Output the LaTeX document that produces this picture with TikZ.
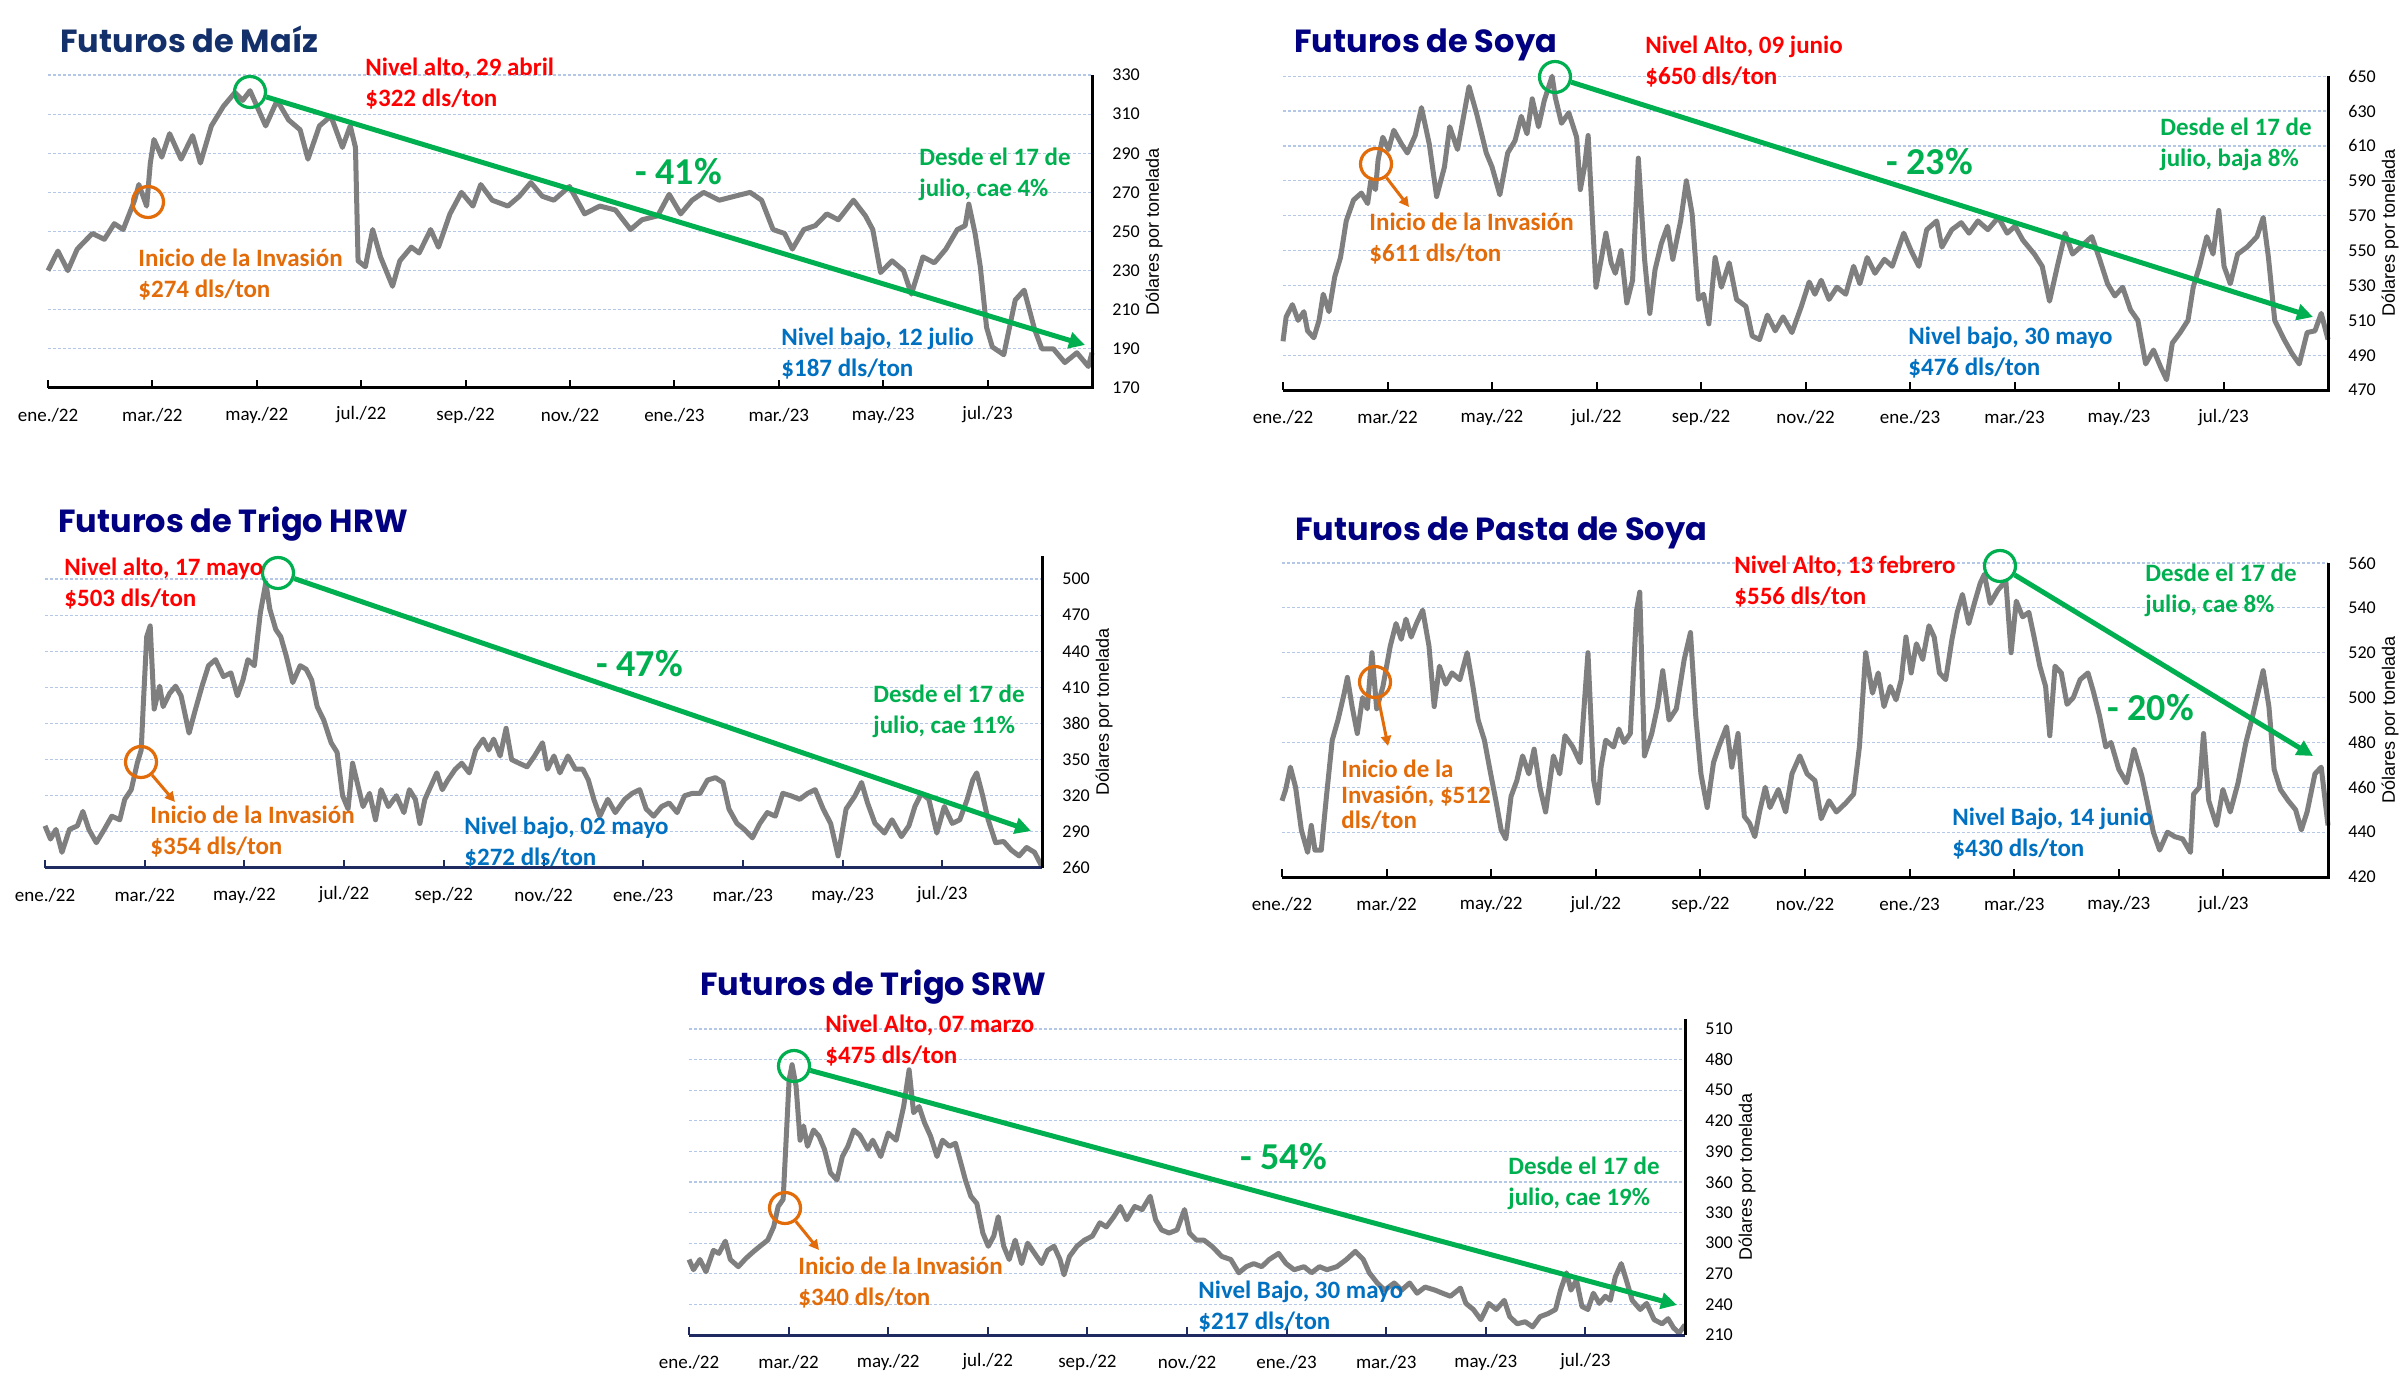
\documentclass[tikz,border=0pt]{standalone}
\usepackage{fontspec}
\setmainfont{Carlito}
\newfontfamily\titlefont{Poppins}
\newfontfamily\arialfont{Liberation Sans}
\usetikzlibrary{arrows.meta}

\definecolor{rojo}{HTML}{FF0000}
\definecolor{naranja}{HTML}{E36C0A}
\definecolor{verde}{HTML}{00B050}
\definecolor{azul}{HTML}{0070C0}
\definecolor{marino}{HTML}{000080}
\definecolor{marinomaiz}{HTML}{13306A}
\definecolor{rejilla}{HTML}{B4C7E7}
\definecolor{precio}{HTML}{7F7F7F}
\definecolor{ejeazul}{HTML}{1F2A60}

\newcommand\mesesfut{0/ene/22,2/mar/22,4/may/22,6/jul/22,8/sep/22,10/nov/22,12/ene/23,14/mar/23,16/may/23,18/jul/23}

\begin{document}
\begin{tikzpicture}[
    x=0.5pt, y=-0.5pt,
    titulo/.style={font=\titlefont\bfseries\fontsize{16}{19}\selectfont, text=marino, anchor=base west, inner sep=0pt},
    nota/.style={font=\bfseries\fontsize{12.5}{15.5}\selectfont, anchor=west, align=left, inner sep=0pt},
    pct/.style={font=\bfseries\fontsize{19}{22}\selectfont, text=verde, anchor=west, inner sep=0pt},
    rejilla/.style={draw=rejilla, line width=0.6pt, dash pattern=on 1.5pt off 1pt},
    serie/.style={draw=precio, line width=2.5pt, line join=round},
    eje/.style={line width=1.5pt},
    marca/.style={line width=1pt},
    mes/.style={font=\fontsize{9.5}{11}\selectfont, yshift=-13.5pt},
    valor/.style={font=\fontsize{9}{11}\selectfont, anchor=west, xshift=10pt, inner sep=0pt},
    unidad/.style={font=\arialfont\fontsize{9}{11}\selectfont, rotate=90},
    aro/.style={circle, draw, line width=1.6pt, minimum size=15.5pt, inner sep=0pt},
    tendencia/.style={draw=verde, line width=2.5pt, -{Triangle[length=8pt,width=8pt]}},
    flecha/.style={draw=naranja, line width=1.5pt, -{Triangle[length=5pt,width=5pt]}}
  ]
  \useasboundingbox[fill=white] (0,0) rectangle (2399,1385);

  % maiz
  \begin{scope}[shift={(48,720.5)}, x=26.1pt, y=0.978pt]
    \foreach \v in {190,210,...,330}
      \draw[rejilla] (0,\v) -- (20,\v);
    \draw[serie] plot coordinates {(0,230) (0.19,240) (0.38,230) (0.56,241) (0.85,249) (1.08,246) (1.27,254) (1.44,251) (1.66,266) (1.74,274) (1.89,263) (1.96,285) (2.03,297) (2.18,288) (2.33,300) (2.55,287) (2.77,299) (2.92,285) (3.13,304) (3.36,314) (3.58,321) (3.73,317) (3.87,322) (4.17,304) (4.39,317) (4.61,307) (4.83,302) (4.98,287) (5.2,304) (5.42,309) (5.64,293) (5.79,304) (5.89,293) (5.94,235) (6.08,232) (6.22,251) (6.37,237) (6.6,222) (6.74,235) (6.96,242) (7.11,239) (7.33,251) (7.48,242) (7.7,259) (7.92,270) (8.14,263) (8.29,274) (8.51,266) (8.81,263) (9.03,268) (9.25,275) (9.47,268) (9.69,266) (9.99,273) (10.28,259) (10.57,263) (10.87,261) (11.16,251) (11.38,256) (11.68,258) (11.9,269) (12.12,259) (12.34,266) (12.56,270) (12.86,266) (13.15,268) (13.45,270) (13.67,266) (13.89,251) (14.11,249) (14.26,241) (14.48,251) (14.7,253) (14.92,259) (15.14,256) (15.43,266) (15.66,258) (15.8,251) (15.95,229) (16.17,235) (16.39,230) (16.54,218) (16.76,237) (16.98,234) (17.2,241) (17.42,251) (17.57,253) (17.64,264) (17.76,249) (17.86,232) (17.98,201) (18.09,191) (18.31,187) (18.38,196) (18.53,215) (18.7,220) (18.9,200) (19.04,190) (19.26,190) (19.48,183) (19.71,188) (19.93,181) (20,188)};
    \draw[eje] (0,170) -- (20,170) -- (20,330);
    \foreach \pos/\mesn/\anio in \mesesfut {
      \draw[marca] (\pos,170) -- ++(0pt,4pt);
      \node[mes] (m1-\pos) at (\pos,170) {\mesn./\anio};
    }
    \foreach \v in {170,190,...,330}
      \node[valor] (v1-\v) at (20,\v) {\v};
    \node[unidad] (u1) at ([xshift=31pt]20,250) {Dólares por tonelada};
  \end{scope}
  \node[titulo, text=marinomaiz] (t1) at (60,53) {Futuros de Maíz};
  \node[aro, draw=verde] (pico1) at (250,92) {};
  \node[aro, draw=naranja] (ini1) at (148,202) {};
  \coordinate (fin1) at (1085,345);
  \draw[tendencia] (pico1) -- (fin1);
  \node[nota, text=rojo] (alto1) at (365,83.5) {Nivel alto, 29 abril\\\$322 dls/ton};
  \node[nota, text=naranja] (inv1) at (138,274.5) {Inicio de la Invasión\\\$274 dls/ton};
  \node[pct] (pct1) at (635,172) {- 41\%};
  \node[nota, text=verde] (desde1) at (919,174.5) {Desde el 17 de\\julio, cae 4\%};
  \node[nota, text=azul] (bajo1) at (781,353.5) {Nivel bajo, 12 julio\\\$187 dls/ton};

  % soya
  \begin{scope}[shift={(1283,1209.8)}, x=26.125pt, y=0.872pt]
    \foreach \v in {490,510,...,650}
      \draw[rejilla] (0,\v) -- (20,\v);
    \draw[serie] plot coordinates {(0,498) (0.06,512) (0.18,519) (0.29,510) (0.4,515) (0.47,504) (0.59,500) (0.69,510) (0.77,525) (0.88,515) (0.99,535) (1.1,546) (1.21,567) (1.35,579) (1.5,583) (1.62,577) (1.68,590) (1.77,585) (1.82,602) (1.91,615) (2.02,608) (2.12,619) (2.27,611) (2.38,606) (2.53,616) (2.65,632) (2.8,611) (2.94,581) (3.09,598) (3.19,621) (3.34,608) (3.56,644) (3.71,628) (3.89,606) (4,598) (4.15,582) (4.3,606) (4.44,613) (4.56,627) (4.67,617) (4.77,637) (4.89,621) (5,636) (5.15,650) (5.21,638) (5.33,623) (5.47,629) (5.62,615) (5.69,585) (5.77,598) (5.84,616) (5.92,569) (5.99,529) (6.09,545) (6.18,560) (6.28,543) (6.36,537) (6.47,550) (6.58,520) (6.69,533) (6.8,603) (6.92,545) (7.02,514) (7.12,539) (7.24,554) (7.36,564) (7.46,545) (7.61,567) (7.72,590) (7.83,571) (7.95,522) (8.05,525) (8.15,508) (8.27,546) (8.39,529) (8.54,543) (8.68,522) (8.86,518) (8.98,501) (9.12,499) (9.27,513) (9.42,504) (9.57,512) (9.74,503) (9.92,518) (10.07,532) (10.18,525) (10.3,533) (10.45,522) (10.6,529) (10.77,525) (10.92,541) (11.04,531) (11.18,546) (11.33,537) (11.51,545) (11.66,541) (11.88,560) (12.02,550) (12.17,541) (12.32,562) (12.51,567) (12.61,552) (12.8,562) (12.98,566) (13.13,560) (13.3,567) (13.49,562) (13.69,569) (13.86,560) (14.01,564) (14.16,556) (14.38,548) (14.53,541) (14.67,521) (14.82,541) (14.97,560) (15.11,548) (15.26,552) (15.48,558) (15.63,545) (15.78,531) (15.92,524) (16.07,529) (16.22,516) (16.36,510) (16.51,485) (16.66,493) (16.8,483) (16.91,476) (17.02,497) (17.17,503) (17.32,510) (17.42,529) (17.54,541) (17.68,558) (17.8,548) (17.91,573) (18.01,541) (18.13,531) (18.27,548) (18.45,552) (18.64,558) (18.76,569) (18.86,546) (18.98,510) (19.16,499) (19.31,491) (19.45,485) (19.6,503) (19.75,504) (19.87,514) (20,499)};
    \draw[eje] (0,470) -- (20,470) -- (20,650);
    \foreach \pos/\mesn/\anio in \mesesfut {
      \draw[marca] (\pos,470) -- ++(0pt,4pt);
      \node[mes] (m2-\pos) at (\pos,470) {\mesn./\anio};
    }
    \foreach \v in {470,490,...,650}
      \node[valor] (v2-\v) at (20,\v) {\v};
    \node[unidad] (u2) at ([xshift=31pt]20,560) {Dólares por tonelada};
  \end{scope}
  \node[titulo] (t2) at (1294,53) {Futuros de Soya};
  \node[aro, draw=verde] (pico2) at (1555,77) {};
  \node[aro, draw=naranja] (ini2) at (1376,164) {};
  \coordinate (fin2) at (2313,317);
  \coordinate (punta2) at (1409,207);
  \draw[tendencia] (pico2) -- (fin2);
  \draw[flecha] (ini2) -- (punta2);
  \node[nota, text=rojo] (alto2) at (1645,61.5) {Nivel Alto, 09 junio\\\$650 dls/ton};
  \node[nota, text=naranja] (inv2) at (1369,239) {Inicio de la Invasión\\\$611 dls/ton};
  \node[pct] (pct2) at (1886,162) {- 23\%};
  \node[nota, text=verde] (desde2) at (2160,144.5) {Desde el 17 de\\julio, baja 8\%};
  \node[nota, text=azul] (bajo2) at (1908,352.5) {Nivel bajo, 30 mayo\\\$476 dls/ton};

  % trigo hrw
  \begin{scope}[shift={(45,1181)}, x=24.925pt, y=0.602pt]
    \foreach \v in {290,320,...,500}
      \draw[rejilla] (0,\v) -- (20,\v);
    \draw[serie] plot coordinates {(0,295) (0.11,284) (0.22,292) (0.34,273) (0.49,292) (0.65,295) (0.76,307) (0.88,292) (1.03,281) (1.19,292) (1.34,303) (1.5,300) (1.6,317) (1.73,325) (1.85,347) (1.93,358) (1.97,394) (2.04,452) (2.11,461) (2.19,392) (2.3,411) (2.37,394) (2.5,405) (2.62,411) (2.73,403) (2.89,372) (3,389) (3.15,411) (3.28,428) (3.42,433) (3.58,419) (3.73,422) (3.86,403) (3.97,416) (4.07,433) (4.2,428) (4.32,472) (4.43,497) (4.51,475) (4.63,458) (4.73,452) (4.84,436) (4.97,414) (5.12,428) (5.24,425) (5.35,416) (5.46,394) (5.59,383) (5.74,364) (5.86,356) (5.97,320) (6.08,309) (6.17,347) (6.28,328) (6.38,311) (6.51,322) (6.63,300) (6.74,325) (6.89,311) (7.05,320) (7.2,306) (7.31,325) (7.43,317) (7.52,297) (7.62,317) (7.74,328) (7.86,339) (7.97,325) (8.08,333) (8.23,342) (8.36,347) (8.51,339) (8.64,358) (8.79,367) (8.9,358) (9,367) (9.13,353) (9.25,376) (9.36,350) (9.51,347) (9.67,344) (9.82,353) (9.98,364) (10.08,342) (10.21,353) (10.33,339) (10.49,353) (10.64,342) (10.79,342) (10.9,333) (11.01,317) (11.13,303) (11.29,317) (11.44,306) (11.63,317) (11.78,322) (11.93,325) (12.06,309) (12.21,303) (12.37,311) (12.52,314) (12.68,306) (12.83,320) (12.99,322) (13.14,322) (13.29,333) (13.45,335) (13.6,331) (13.72,309) (13.88,297) (14.03,292) (14.19,285) (14.34,297) (14.49,306) (14.65,303) (14.8,322) (14.96,320) (15.14,317) (15.3,322) (15.45,325) (15.61,309) (15.76,297) (15.91,270) (16.07,309) (16.25,320) (16.38,331) (16.5,314) (16.65,297) (16.84,289) (16.99,300) (17.18,286) (17.33,295) (17.45,311) (17.58,322) (17.73,317) (17.89,289) (18.04,311) (18.2,297) (18.35,300) (18.5,317) (18.61,333) (18.69,339) (18.81,320) (18.92,300) (19.07,281) (19.23,282) (19.38,275) (19.54,270) (19.69,277) (19.85,273) (20,261)};
    \draw[eje, draw=ejeazul] (0,260) -- (20,260);
    \draw[eje] (20,260) -- (20,519);
    \foreach \pos/\mesn/\anio in \mesesfut {
      \draw[marca, draw=ejeazul] (\pos,260) -- ++(0pt,4pt);
      \node[mes] (m3-\pos) at (\pos,260) {\mesn./\anio};
    }
    \foreach \v in {260,290,...,500}
      \node[valor] (v3-\v) at (20,\v) {\v};
    \node[unidad] (u3) at ([xshift=31pt]20,389.5) {Dólares por tonelada};
  \end{scope}
  \node[titulo] (t3) at (58,532) {Futuros de Trigo HRW};
  \node[aro, draw=verde] (pico3) at (278,573) {};
  \node[aro, draw=naranja] (ini3) at (141,762) {};
  \coordinate (fin3) at (1031,831);
  \coordinate (punta3) at (175,802);
  \draw[tendencia] (pico3) -- (fin3);
  \draw[flecha] (ini3) -- (punta3);
  \node[nota, text=rojo] (alto3) at (64,584) {Nivel alto, 17 mayo\\\$503 dls/ton};
  \node[nota, text=naranja] (inv3) at (150,832) {Inicio de la Invasión\\\$354 dls/ton};
  \node[pct] (pct3) at (596,664) {- 47\%};
  \node[nota, text=verde] (desde3) at (873,711) {Desde el 17 de\\julio, cae 11\%};
  \node[nota, text=azul] (bajo3) at (464,843) {Nivel bajo, 02 mayo\\\$272 dls/ton};

  % pasta de soya
  \begin{scope}[shift={(1282,1819.1)}, x=26.15pt, y=1.1215pt]
    \foreach \v in {440,460,...,560}
      \draw[rejilla] (0,\v) -- (20,\v);
    \draw[serie] plot coordinates {(0,454) (0.07,459) (0.16,469) (0.26,460) (0.37,441) (0.49,431) (0.56,443) (0.63,432) (0.75,432) (0.85,456) (0.96,481) (1.07,490) (1.19,502) (1.25,509) (1.34,496) (1.44,484) (1.54,500) (1.63,495) (1.72,520) (1.81,495) (1.93,505) (2.07,523) (2.18,533) (2.28,526) (2.37,535) (2.47,527) (2.57,533) (2.69,539) (2.81,523) (2.91,496) (3.01,514) (3.13,506) (3.25,511) (3.4,508) (3.54,520) (3.65,505) (3.75,490) (3.87,481) (3.99,466) (4.09,454) (4.19,441) (4.28,437) (4.38,456) (4.49,463) (4.6,474) (4.72,466) (4.82,477) (4.93,460) (5.04,449) (5.19,474) (5.31,466) (5.41,483) (5.56,478) (5.7,471) (5.85,520) (5.96,463) (6.04,453) (6.1,469) (6.19,481) (6.34,478) (6.44,486) (6.54,480) (6.66,484) (6.78,539) (6.84,547) (6.93,474) (7.07,484) (7.18,496) (7.28,512) (7.4,490) (7.54,495) (7.69,517) (7.81,529) (7.91,492) (8.01,466) (8.13,451) (8.25,471) (8.35,478) (8.5,487) (8.6,469) (8.72,484) (8.84,447) (8.94,444) (9.04,438) (9.13,449) (9.24,460) (9.33,451) (9.49,459) (9.63,449) (9.75,466) (9.9,474) (10.04,466) (10.19,463) (10.31,446) (10.46,454) (10.6,449) (10.78,453) (10.93,457) (11.04,478) (11.16,520) (11.29,502) (11.4,511) (11.51,496) (11.63,505) (11.74,499) (11.84,508) (11.93,527) (12.03,511) (12.13,524) (12.25,517) (12.37,532) (12.47,527) (12.57,511) (12.69,508) (12.81,526) (12.91,538) (13.01,546) (13.13,533) (13.25,543) (13.35,551) (13.43,555) (13.54,542) (13.69,548) (13.84,552) (13.94,520) (14.04,543) (14.16,536) (14.28,538) (14.38,527) (14.49,514) (14.6,505) (14.68,483) (14.78,514) (14.9,511) (15.01,497) (15.13,500) (15.26,508) (15.41,511) (15.51,503) (15.63,492) (15.75,478) (15.85,480) (16,468) (16.15,462) (16.29,477) (16.44,465) (16.54,454) (16.66,440) (16.78,432) (16.93,440) (17.07,438) (17.22,437) (17.37,431) (17.43,457) (17.54,460) (17.62,484) (17.72,454) (17.87,443) (17.99,459) (18.13,449) (18.28,462) (18.43,480) (18.54,490) (18.66,502) (18.76,512) (18.87,496) (18.97,468) (19.09,459) (19.24,454) (19.38,450) (19.49,441) (19.6,449) (19.75,466) (19.87,469) (20,443)};
    \draw[eje] (0,420) -- (20,420) -- (20,560);
    \foreach \pos/\mesn/\anio in \mesesfut {
      \draw[marca] (\pos,420) -- ++(0pt,4pt);
      \node[mes] (m4-\pos) at (\pos,420) {\mesn./\anio};
    }
    \foreach \v in {420,440,...,560}
      \node[valor] (v4-\v) at (20,\v) {\v};
    \node[unidad] (u4) at ([xshift=31pt]20,490) {Dólares por tonelada};
  \end{scope}
  \node[titulo] (t4) at (1295,540) {Futuros de Pasta de Soya};
  \node[aro, draw=verde] (pico4) at (2000,566) {};
  \node[aro, draw=naranja] (ini4) at (1375,682) {};
  \coordinate (fin4) at (2313,756);
  \coordinate (punta4) at (1388,746);
  \draw[tendencia] (pico4) -- (fin4);
  \draw[flecha] (ini4) -- (punta4);
  \node[nota, text=rojo] (alto4) at (1734,581.5) {Nivel Alto, 13 febrero\\\$556 dls/ton};
  \node[nota, text=verde] (desde4) at (2145,590.5) {Desde el 17 de\\julio, cae 8\%};
  \node[pct] (pct4) at (2107,708) {- 20\%};
  \node[nota, text=naranja, font=\bfseries\fontsize{12.5}{12.8}\selectfont] (inv4) at (1341,795) {Inicio de la\\Invasión, \$512\\dls/ton};
  \node[nota, text=azul] (bajo4) at (1952,833.5) {Nivel Bajo, 14 junio\\\$430 dls/ton};

  % trigo srw
  \begin{scope}[shift={(689,1549.2)}, x=24.9pt, y=0.51pt]
    \foreach \v in {240,270,...,510}
      \draw[rejilla] (0,\v) -- (20,\v);
    \draw[serie] plot coordinates {(0,284) (0.09,274) (0.22,284) (0.34,272) (0.49,293) (0.6,290) (0.73,302) (0.83,284) (0.99,277) (1.14,285) (1.3,292) (1.45,298) (1.58,303) (1.7,316) (1.79,336) (1.89,343) (1.95,401) (2.01,460) (2.07,475) (2.15,454) (2.23,401) (2.3,415) (2.38,395) (2.5,411) (2.61,405) (2.72,392) (2.84,369) (2.97,362) (3.08,385) (3.19,395) (3.31,411) (3.43,406) (3.59,392) (3.69,401) (3.85,385) (4,408) (4.16,401) (4.31,434) (4.42,470) (4.51,428) (4.62,434) (4.73,418) (4.85,405) (4.98,385) (5.09,401) (5.23,395) (5.35,398) (5.44,382) (5.55,362) (5.66,346) (5.78,339) (5.9,310) (6.01,297) (6.12,307) (6.21,326) (6.32,297) (6.43,284) (6.55,303) (6.68,280) (6.8,300) (6.94,290) (7.08,280) (7.2,293) (7.33,297) (7.45,284) (7.53,269) (7.64,287) (7.79,297) (7.94,303) (8.1,307) (8.25,320) (8.38,316) (8.53,326) (8.66,336) (8.79,323) (8.95,336) (9.1,333) (9.26,346) (9.37,323) (9.49,313) (9.64,310) (9.8,313) (9.95,333) (10.05,310) (10.19,303) (10.34,303) (10.5,297) (10.7,287) (10.88,284) (11.04,271) (11.19,277) (11.34,280) (11.5,277) (11.65,284) (11.84,290) (11.99,280) (12.15,274) (12.35,277) (12.5,271) (12.66,277) (12.81,274) (13.01,277) (13.2,284) (13.38,292) (13.54,284) (13.66,271) (13.82,261) (13.97,254) (14.16,261) (14.31,254) (14.47,261) (14.62,251) (14.78,257) (14.98,254) (15.13,251) (15.29,248) (15.49,256) (15.6,241) (15.75,235) (15.9,225) (16.06,241) (16.21,235) (16.37,244) (16.48,228) (16.63,221) (16.79,223) (16.94,218) (17.09,228) (17.25,231) (17.4,235) (17.5,254) (17.62,271) (17.71,254) (17.82,264) (17.93,238) (18.05,235) (18.16,251) (18.28,241) (18.4,248) (18.5,244) (18.6,267) (18.72,280) (18.82,264) (18.94,244) (19.1,235) (19.23,241) (19.38,225) (19.54,221) (19.66,226) (19.77,217) (19.88,212) (20,220)};
    \draw[eje, draw=ejeazul] (0,210) -- (20,210);
    \draw[eje] (20,210) -- (20,520);
    \foreach \pos/\mesn/\anio in \mesesfut {
      \draw[marca, draw=ejeazul] (\pos,210) -- ++(0pt,4pt);
      \node[mes] (m5-\pos) at (\pos,210) {\mesn./\anio};
    }
    \foreach \v in {210,240,...,510}
      \node[valor] (v5-\v) at (20,\v) {\v};
    \node[unidad] (u5) at ([xshift=31pt]20,365) {Dólares por tonelada};
  \end{scope}
  \node[titulo] (t5) at (700,995) {Futuros de Trigo SRW};
  \node[aro, draw=verde] (pico5) at (794,1066) {};
  \node[aro, draw=naranja] (ini5) at (785,1208) {};
  \coordinate (fin5) at (1677,1305);
  \coordinate (punta5) at (819,1250);
  \draw[tendencia] (pico5) -- (fin5);
  \draw[flecha] (ini5) -- (punta5);
  \node[nota, text=rojo] (alto5) at (825,1040.5) {Nivel Alto, 07 marzo\\\$475 dls/ton};
  \node[pct] (pct5) at (1240,1157) {- 54\%};
  \node[nota, text=verde] (desde5) at (1508,1183) {Desde el 17 de\\julio, cae 19\%};
  \node[nota, text=naranja] (inv5) at (798,1283) {Inicio de la Invasión\\\$340 dls/ton};
  \node[nota, text=azul] (bajo5) at (1198,1307) {Nivel Bajo, 30 mayo\\\$217 dls/ton};
\end{tikzpicture}
\end{document}
